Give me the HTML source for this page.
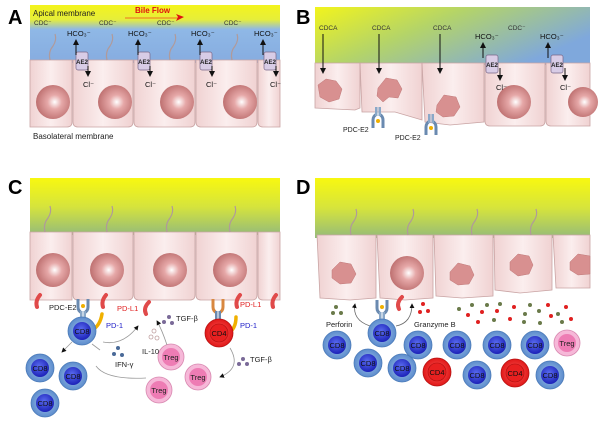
<!DOCTYPE html>
<html><head><meta charset="utf-8"><style>
html,body{margin:0;padding:0;background:#fff}
svg{display:block}
text{font-family:"Liberation Sans",sans-serif}
</style></head><body>
<svg width="600" height="422" viewBox="0 0 600 422" xmlns="http://www.w3.org/2000/svg">
<defs>
<linearGradient id="gA" x1="0" y1="0" x2="0" y2="1">
<stop offset="0" stop-color="#f4f41c"/><stop offset="0.25" stop-color="#e6ee3a"/><stop offset="0.42" stop-color="#8fb8e6"/><stop offset="1" stop-color="#86ace0"/></linearGradient>
<linearGradient id="gB" x1="0" y1="0" x2="1" y2="0.5">
<stop offset="0" stop-color="#f2f41c"/><stop offset="0.45" stop-color="#b4d468"/><stop offset="1" stop-color="#7fa8dc"/></linearGradient>
<linearGradient id="gC" x1="0" y1="0" x2="0" y2="1">
<stop offset="0" stop-color="#f8f810"/><stop offset="0.5" stop-color="#d6e43c"/><stop offset="1" stop-color="#94bb7a"/></linearGradient>
<linearGradient id="cell" x1="0" y1="0" x2="1" y2="0">
<stop offset="0" stop-color="#f0d2d2"/><stop offset="0.5" stop-color="#fbeeee"/><stop offset="1" stop-color="#f0d2d2"/></linearGradient>
<radialGradient id="nuc" cx="0.55" cy="0.5" r="0.6">
<stop offset="0" stop-color="#ffffff"/><stop offset="0.35" stop-color="#e6a8a8"/><stop offset="1" stop-color="#b86868"/></radialGradient>
<radialGradient id="cd8" cx="0.5" cy="0.5" r="0.5">
<stop offset="0" stop-color="#a8c8f0"/><stop offset="1" stop-color="#5c8ccc"/></radialGradient>
<radialGradient id="cd8n" cx="0.45" cy="0.4" r="0.6">
<stop offset="0" stop-color="#5a6cf0"/><stop offset="1" stop-color="#1c22b8"/></radialGradient>
<radialGradient id="cd4" cx="0.5" cy="0.5" r="0.5">
<stop offset="0" stop-color="#ff6060"/><stop offset="1" stop-color="#e01818"/></radialGradient>
<radialGradient id="treg" cx="0.5" cy="0.5" r="0.5">
<stop offset="0" stop-color="#f080b8"/><stop offset="1" stop-color="#f6b8d6"/></radialGradient>
<g id="cellc"><circle r="14" fill="url(#cd8)" stroke="#4a7ab8" stroke-width="0.8"/><circle r="9" fill="url(#cd8n)"/><text y="3" text-anchor="middle" font-size="7.5" fill="#111">CD8</text></g>
<g id="cellr"><circle r="14" fill="url(#cd4)" stroke="#b81010" stroke-width="0.8"/><circle r="9" fill="#e82020" stroke="#b01010" stroke-width="0.6"/><text y="3" text-anchor="middle" font-size="7.5" fill="#111">CD4</text></g>
<g id="cellt"><circle r="13" fill="#f6b8d8" stroke="#d888b0" stroke-width="0.8"/><circle r="9" fill="#ee7cb4"/><text y="3" text-anchor="middle" font-size="7.5" fill="#222">Treg</text></g>
<g id="ae2"><rect x="-6" y="-8" width="12" height="18" rx="2" fill="#d8cce6" stroke="#776688" stroke-width="0.7"/><text y="4" text-anchor="middle" font-size="6" font-weight="bold" fill="#222">AE2</text></g>
<g id="ab"><path d="M-5,-8 v8 q0,4 4,6 M5,-8 v8 q0,4 -4,6" fill="none" stroke="#6a8ab0" stroke-width="3"/><rect x="-3" y="4" width="2.5" height="9" fill="#8aa8c8"/><rect x="0.5" y="4" width="2.5" height="9" fill="#8aa8c8"/><circle cy="-1" r="2" fill="#f0b000"/></g>
<marker id="ar" markerWidth="6" markerHeight="6" refX="5" refY="3" orient="auto"><path d="M0,0 L6,3 L0,6 z" fill="#111"/></marker>
</defs>

<!-- Panel letters -->
<text x="8" y="24" font-size="20" font-weight="bold">A</text>
<text x="296" y="24" font-size="20" font-weight="bold">B</text>
<text x="8" y="194" font-size="20" font-weight="bold">C</text>
<text x="296" y="194" font-size="20" font-weight="bold">D</text>

<!-- ===== Panel A ===== -->
<rect x="30" y="5" width="250" height="58" fill="url(#gA)"/>
<g fill="url(#cell)" stroke="#c9a4a4" stroke-width="0.8">
<path d="M30,60 H72 V122 q0,5 -5,5 H30 z"/>
<path d="M73,60 H133 V122 q0,5 -5,5 H78 q-5,0 -5,-5 z"/>
<path d="M134,60 H195 V122 q0,5 -5,5 H139 q-5,0 -5,-5 z"/>
<path d="M196,60 H257 V122 q0,5 -5,5 H201 q-5,0 -5,-5 z"/>
<path d="M258,60 H280 V127 H263 q-5,0 -5,-5 z"/>
</g>
<g fill="url(#nuc)"><circle cx="53" cy="102" r="17"/><circle cx="115" cy="102" r="17"/><circle cx="177" cy="102" r="17"/><circle cx="240" cy="102" r="17"/></g>
<g fill="none" stroke="#b09a9a" stroke-width="1.2"><path d="M50,60 q-2,-8 3,-14 q4,-6 2,-12"/><path d="M107,60 q-2,-8 3,-14 q4,-6 2,-12"/><path d="M170,60 q-2,-8 3,-14 q4,-6 2,-12"/><path d="M232,60 q-2,-8 3,-14 q4,-6 2,-12"/></g>
<g font-size="6.5" fill="#333"><text x="34" y="25">CDC⁻</text><text x="99" y="25">CDC⁻</text><text x="157" y="25">CDC⁻</text><text x="224" y="25">CDC⁻</text></g>
<text x="33" y="16" font-size="8" fill="#222">Apical membrane</text>
<text x="135" y="13" font-size="8" font-weight="bold" fill="#e01010">Bile Flow</text>
<line x1="125" y1="18" x2="178" y2="18" stroke="#f07020" stroke-width="1"/><path d="M176,14 L184,17 L176,21 L178,17 z" fill="#e01010"/>
<g font-size="7.5" fill="#111"><text x="67" y="36">HCO₃⁻</text><text x="128" y="36">HCO₃⁻</text><text x="191" y="36">HCO₃⁻</text><text x="254" y="36">HCO₃⁻</text>
<text x="83" y="87">Cl⁻</text><text x="145" y="87">Cl⁻</text><text x="206" y="87">Cl⁻</text><text x="270" y="87">Cl⁻</text></g>
<use href="#ae2" x="82" y="60"/><use href="#ae2" x="144" y="60"/><use href="#ae2" x="206" y="60"/><use href="#ae2" x="270" y="60"/>
<g stroke="#111" stroke-width="1" marker-end="url(#ar)"><line x1="76" y1="55" x2="76" y2="40"/><line x1="88" y1="66" x2="88" y2="76"/><line x1="138" y1="55" x2="138" y2="40"/><line x1="150" y1="66" x2="150" y2="76"/><line x1="200" y1="55" x2="200" y2="40"/><line x1="212" y1="66" x2="212" y2="76"/><line x1="263" y1="55" x2="263" y2="40"/><line x1="276" y1="66" x2="276" y2="76"/></g>
<text x="33" y="139" font-size="8" fill="#222">Basolateral membrane</text>

<!-- ===== Panel B ===== -->
<rect x="315" y="7" width="275" height="58" fill="url(#gB)"/>
<g fill="url(#cell)" stroke="#c9a4a4" stroke-width="0.8">
<path d="M315,63 H360 V108 L355,110 L315,108 z"/>
<path d="M360,63 H422 V120 L395,112 L362,112 z"/>
<path d="M422,63 H484 V122 L450,125 L425,122 z"/>
<path d="M485,63 H545 V121 q0,5 -5,5 H490 q-5,0 -5,-5 z"/>
<path d="M546,63 H590 V126 H551 q-5,0 -5,-5 z"/>
</g>
<g fill="#d89090" stroke="#c07878" stroke-width="0.5">
<path d="M318,85 l8,-6 10,2 6,8 -3,10 -10,3 -9,-5 z"/>
<path d="M378,88 l8,-10 11,2 5,9 -4,9 -9,-1 -6,5 -6,-6 z"/>
<path d="M437,105 l7,-10 12,2 4,10 -6,9 -11,1 -7,-5 z"/>
</g>
<g fill="url(#nuc)"><circle cx="514" cy="102" r="17"/><circle cx="583" cy="102" r="15"/></g>
<g font-size="6.5" fill="#333"><text x="319" y="30">CDCA</text><text x="372" y="30">CDCA</text><text x="433" y="30">CDCA</text><text x="508" y="30">CDC⁻</text></g>
<g stroke="#111" stroke-width="1" marker-end="url(#ar)"><line x1="323" y1="34" x2="323" y2="73"/><line x1="379" y1="34" x2="379" y2="73"/><line x1="440" y1="34" x2="440" y2="73"/><line x1="483" y1="58" x2="483" y2="43"/><line x1="500" y1="68" x2="500" y2="80"/><line x1="548" y1="58" x2="548" y2="43"/><line x1="565" y1="68" x2="565" y2="80"/></g>
<use href="#ae2" x="492" y="63"/><use href="#ae2" x="557" y="63"/>
<g font-size="7.5" fill="#111"><text x="475" y="39">HCO₃⁻</text><text x="540" y="39">HCO₃⁻</text><text x="496" y="90">Cl⁻</text><text x="560" y="90">Cl⁻</text></g>
<use href="#ab" x="378" y="120" transform="rotate(180 378 120)"/><use href="#ab" x="431" y="127" transform="rotate(180 431 127)"/>
<g font-size="7" fill="#222"><text x="343" y="132">PDC-E2</text><text x="395" y="140">PDC-E2</text></g>

<!-- ===== Panel C ===== -->
<rect x="30" y="178" width="250" height="57" fill="url(#gC)"/>
<g fill="url(#cell)" stroke="#c9a4a4" stroke-width="0.8">
<path d="M30,232 H72 V300 H30 z"/>
<path d="M73,232 H133 V295 q0,5 -5,5 H78 q-5,0 -5,-5 z"/>
<path d="M134,232 H195 V295 q0,5 -5,5 H139 q-5,0 -5,-5 z"/>
<path d="M196,232 H257 V295 q0,5 -5,5 H201 q-5,0 -5,-5 z"/>
<path d="M258,232 H280 V300 H263 q-5,0 -5,-5 z"/>
</g>
<g fill="url(#nuc)"><circle cx="53" cy="270" r="17"/><circle cx="107" cy="270" r="17"/><circle cx="170" cy="270" r="17"/><circle cx="230" cy="270" r="17"/></g>
<g fill="none" stroke="#b09a9a" stroke-width="1.2"><path d="M45,232 q-2,-8 3,-14 q4,-6 2,-12"/><path d="M107,232 q-2,-8 3,-14 q4,-6 2,-12"/><path d="M167,232 q-2,-8 3,-14 q4,-6 2,-12"/><path d="M230,232 q-2,-8 3,-14 q4,-6 2,-12"/></g>
<g fill="none" stroke="#e04a4a" stroke-width="4" stroke-linecap="round"><path d="M40,295 q-5,6 -3,12"/><path d="M106,295 q-5,6 -3,12"/><path d="M149,302 q-6,6 -3,12"/><path d="M240,295 q-5,6 -3,12"/><path d="M276,295 q-5,6 -3,12"/></g>
<use href="#ab" x="83" y="307"/>
<g transform="translate(218,307)"><path d="M-5,-8 v8 q0,4 4,6 M5,-8 v8 q0,4 -4,6" fill="none" stroke="#d88840" stroke-width="3"/><rect x="-3" y="4" width="2.5" height="9" fill="#6a8ab0"/><rect x="0.5" y="4" width="2.5" height="9" fill="#6a8ab0"/></g>
<path d="M92,330 q8,-4 10,-16" fill="none" stroke="#f0b000" stroke-width="3.5" stroke-linecap="round"/>
<path d="M228,333 q8,-4 8,-16" fill="none" stroke="#f0b000" stroke-width="3.5" stroke-linecap="round"/>
<use href="#cellc" x="82" y="331"/>
<use href="#cellr" x="219" y="333"/>
<use href="#cellt" x="171" y="357"/><use href="#cellt" x="198" y="377"/><use href="#cellt" x="159" y="390"/>
<g><use href="#cellc" x="40" y="368"/><use href="#cellc" x="73" y="376"/><use href="#cellc" x="45" y="403"/></g>
<g font-size="7.5"><text x="49" y="310" fill="#222">PDC-E2</text><text x="117" y="311" fill="#e02020">PD-L1</text><text x="106" y="328" fill="#2020c8">PD-1</text><text x="240" y="307" fill="#e02020">PD-L1</text><text x="240" y="328" fill="#2020c8">PD-1</text>
<text x="176" y="321" fill="#222">TGF-β</text><text x="142" y="354" fill="#222">IL-10</text><text x="115" y="367" fill="#222">IFN-γ</text><text x="250" y="362" fill="#222">TGF-β</text></g>
<g fill="#7a6a98"><circle cx="169" cy="317" r="2"/><circle cx="164" cy="322" r="2"/><circle cx="172" cy="323" r="2"/><circle cx="243" cy="359" r="2"/><circle cx="239" cy="364" r="2"/><circle cx="247" cy="364" r="2"/></g>
<g fill="#fff" stroke="#c0a0a0" stroke-width="0.8"><circle cx="154" cy="331" r="2"/><circle cx="151" cy="337" r="2"/><circle cx="157" cy="338" r="2"/></g>
<g fill="#4a6a98"><circle cx="118" cy="348" r="2"/><circle cx="114" cy="354" r="2"/><circle cx="122" cy="355" r="2"/></g>
<g fill="none" stroke="#999" stroke-width="0.8"><path d="M103,342 q20,4 35,-16" marker-end="url(#ar)"/><path d="M167,345 q-5,-15 -10,-24" marker-end="url(#ar)"/><path d="M230,348 q12,20 -10,29" marker-end="url(#ar)"/><path d="M72,342 L62,352" marker-end="url(#ar)"/><path d="M146,378 q-40,2 -50,-12"/><line x1="92" y1="344" x2="100" y2="350"/></g>

<!-- ===== Panel D ===== -->
<rect x="315" y="178" width="275" height="60" fill="url(#gC)"/>
<g fill="url(#cell)" stroke="#c9a4a4" stroke-width="0.8">
<path d="M317,235 H376 V298 L350,300 L320,298 z"/>
<path d="M377,235 H433 V298 L405,300 L380,298 z"/>
<path d="M434,235 H493 V296 L462,298 L436,296 z"/>
<path d="M494,235 H552 V290 L520,293 L495,290 z"/>
<path d="M553,235 H590 V288 L556,288 z"/>
</g>
<g fill="#d89090" stroke="#c07878" stroke-width="0.5">
<path d="M332,270 l8,-8 11,2 5,10 -5,9 -11,1 -8,-6 z"/>
<path d="M450,272 l8,-9 12,3 4,9 -5,9 -11,1 -8,-5 z"/>
<path d="M510,262 l8,-8 11,2 4,9 -4,9 -11,2 -8,-6 z"/>
<path d="M570,262 l8,-8 12,2 v18 l-12,1 -8,-5 z"/>
</g>
<circle cx="407" cy="273" r="17" fill="url(#nuc)"/>
<g fill="none" stroke="#b09a9a" stroke-width="1.2"><path d="M351,235 q-2,-8 3,-14 q4,-6 2,-12"/><path d="M408,235 q-2,-8 3,-14 q4,-6 2,-12"/><path d="M472,235 q-2,-8 3,-14 q4,-6 2,-12"/><path d="M531,235 q-2,-8 3,-14 q4,-6 2,-12"/></g>
<path d="M402,297 q-6,6 -3,12" fill="none" stroke="#e04a4a" stroke-width="4" stroke-linecap="round"/>
<use href="#ab" x="382" y="308"/>
<g fill="#6a7a4a"><circle cx="336" cy="307" r="2"/><circle cx="333" cy="313" r="2"/><circle cx="341" cy="313" r="2"/></g>
<g fill="#e02020"><circle cx="423" cy="304" r="2"/><circle cx="420" cy="312" r="2"/><circle cx="428" cy="311" r="2"/></g>
<g>
<circle cx="459" cy="309" r="2" fill="#6a7a4a"/><circle cx="472" cy="305" r="2" fill="#6a7a4a"/><circle cx="468" cy="315" r="2" fill="#e02020"/><circle cx="482" cy="312" r="2" fill="#e02020"/><circle cx="487" cy="305" r="2" fill="#6a7a4a"/><circle cx="497" cy="311" r="2" fill="#e02020"/><circle cx="500" cy="304" r="2" fill="#6a7a4a"/><circle cx="494" cy="320" r="2" fill="#6a7a4a"/><circle cx="510" cy="319" r="2" fill="#e02020"/><circle cx="514" cy="307" r="2" fill="#e02020"/><circle cx="525" cy="314" r="2" fill="#6a7a4a"/><circle cx="530" cy="305" r="2" fill="#6a7a4a"/><circle cx="539" cy="311" r="2" fill="#6a7a4a"/><circle cx="548" cy="305" r="2" fill="#e02020"/><circle cx="551" cy="316" r="2" fill="#e02020"/><circle cx="540" cy="323" r="2" fill="#6a7a4a"/><circle cx="558" cy="314" r="2" fill="#6a7a4a"/><circle cx="566" cy="307" r="2" fill="#e02020"/><circle cx="571" cy="319" r="2" fill="#e02020"/><circle cx="562" cy="322" r="2" fill="#6a7a4a"/><circle cx="478" cy="322" r="2" fill="#e02020"/><circle cx="524" cy="322" r="2" fill="#6a7a4a"/>
</g>
<g fill="none" stroke="#666" stroke-width="0.8"><path d="M370,326 q-18,-6 -15,-22" marker-end="url(#ar)"/><path d="M396,326 q16,-3 16,-22" marker-end="url(#ar)"/></g>
<g font-size="7.5" fill="#222"><text x="326" y="327">Perforin</text><text x="414" y="327">Granzyme B</text></g>
<use href="#cellc" x="382" y="333"/><use href="#cellc" x="337" y="345"/><use href="#cellc" x="418" y="345"/><use href="#cellc" x="457" y="345"/><use href="#cellc" x="497" y="345"/><use href="#cellc" x="535" y="345"/><use href="#cellt" x="567" y="343"/>
<use href="#cellc" x="368" y="363"/><use href="#cellc" x="402" y="368"/><use href="#cellr" x="437" y="372"/><use href="#cellc" x="477" y="375"/><use href="#cellr" x="515" y="373"/><use href="#cellc" x="550" y="375"/>
</svg>
</body></html>
